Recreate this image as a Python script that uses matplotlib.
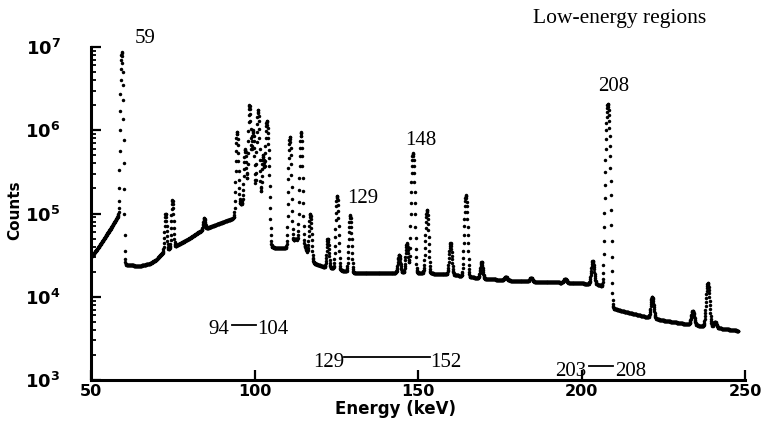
import matplotlib
matplotlib.use('Agg')
import matplotlib.pyplot as plt
import numpy as np

# continuum under the peaks (keV, counts)
bg_energy = [50, 52, 54, 56, 58, 58.7, 59.9, 61, 65, 68, 70, 72, 74, 76, 80, 83, 86,
             90, 93, 94.2, 95.3, 103.8, 104.7, 106, 109, 110, 112.5, 115.5, 116.5,
             118.5, 121, 126, 130, 145, 150, 160, 170, 180, 190, 200, 205, 207.6,
             208.6, 212, 220, 225, 232, 240, 248]
bg_counts = [3.0e4, 3.8e4, 5.0e4, 6.6e4, 9.0e4, 1.05e5, 2.6e4, 2.4e4, 2.35e4, 2.5e4,
             2.8e4, 3.4e4, 3.8e4, 4.1e4, 5.0e4, 6.0e4, 6.8e4, 7.8e4, 8.6e4, 9.2e4,
             1.3e5, 1.3e5, 4.0e4, 3.9e4, 3.8e4, 4.0e4, 5.0e4, 4.0e4, 3.0e4, 2.5e4,
             2.3e4, 2.1e4, 1.95e4, 1.95e4, 1.95e4, 1.85e4, 1.65e4, 1.55e4, 1.5e4,
             1.45e4, 1.4e4, 1.3e4, 7.5e3, 6.8e3, 5.7e3, 5.2e3, 4.7e3, 4.3e3, 3.9e3]

# peak centroids (keV) and counts at the top of each peak
peak_energy = [59.4, 72.8, 74.9, 84.6, 94.65, 97.1, 98.45, 99.55, 101.05, 102.6,
               103.7, 104.2, 110.8, 114.2, 117.0, 122.4, 125.2, 129.2, 144.2, 146.6,
               148.4, 152.7, 159.9, 164.6, 169.4, 176.8, 184.5, 195.0, 203.4, 208.0,
               221.6, 234.0, 238.6, 240.8]
peak_top = [8.7e6, 1.0e5, 1.45e5, 8.8e4, 9.6e5, 6.0e5, 2.0e6, 1.0e6, 1.75e6, 5.0e5,
            1.2e6, 4.5e5, 8.3e5, 9.5e5, 1.0e5, 5.0e4, 1.65e5, 9.5e4, 3.2e4, 4.4e4,
            5.3e5, 1.1e5, 4.4e4, 1.65e5, 2.6e4, 1.75e4, 1.7e4, 1.65e4, 2.7e4, 2.1e6,
            1.0e4, 6.8e3, 1.45e4, 5.0e3]

channel_kev = 0.075
xticks = [50, 100, 150, 200, 250]
yticks = [1e3, 1e4, 1e5, 1e6, 1e7]
ytick_labels = [r'$\mathbf{10^{3}}$', r'$\mathbf{10^{4}}$', r'$\mathbf{10^{5}}$',
                r'$\mathbf{10^{6}}$', r'$\mathbf{10^{7}}$']


def build_spectrum():
    energy = np.arange(50, 248, channel_kev)
    bg = 10 ** np.interp(energy, bg_energy, np.log10(bg_counts))
    counts = bg.copy()
    for e0, top in zip(peak_energy, peak_top):
        sigma = 0.2 + 0.001 * e0
        base = 10 ** np.interp(e0, bg_energy, np.log10(bg_counts))
        counts += (top - base) * np.exp(-0.5 * ((energy - e0) / sigma) ** 2)
    return energy, counts


def main():
    energy, counts = build_spectrum()

    fig = plt.figure(figsize=(7.65, 4.33), dpi=100)
    ax = fig.add_axes([0.119, 0.1224, 0.855, 0.769])
    ax.plot(energy, counts, 'o', ms=2.5, color='black', mec='none')

    ax.set_yscale('log')
    ax.set_xlim(50, 250)
    ax.set_ylim(1e3, 1e7)
    ax.spines['top'].set_visible(False)
    ax.spines['right'].set_visible(False)
    ax.spines['left'].set_linewidth(2.2)
    ax.spines['bottom'].set_linewidth(2.2)

    ax.set_xticks(xticks)
    ax.set_xticklabels([str(t) for t in xticks], fontsize=11.5, fontweight='bold')
    ax.set_yticks(yticks, labels=ytick_labels)
    ax.yaxis.set_minor_locator(matplotlib.ticker.LogLocator(base=10, subs=np.arange(2, 10)))
    ax.yaxis.set_minor_formatter(matplotlib.ticker.NullFormatter())
    ax.tick_params(axis='x', direction='in', length=7, width=1.6, pad=3)
    ax.tick_params(axis='y', which='major', direction='in', length=7, width=1.6,
                   pad=22, labelsize=13)
    ax.tick_params(axis='y', which='minor', direction='in', length=3.5, width=1.3)

    ax.set_xlabel('Energy (keV)', fontsize=12, fontweight='bold')
    ax.xaxis.set_label_coords(0.465, -0.06)
    ax.set_ylabel('Counts', fontsize=11, fontweight='bold')
    ax.yaxis.set_label_coords(-0.105, 0.51)

    serif = dict(family='Liberation Serif', fontsize=15, ha='left', va='baseline')
    ax.text(63.5, 10 ** 7.05, '59', **serif)
    ax.text(205.0, 10 ** 6.47, '208', **serif)
    ax.text(146.0, 10 ** 5.82, '148', **serif)
    ax.text(128.3, 10 ** 5.13, '129', **serif)

    # energy ranges
    ax.text(85.8, 10 ** 3.555, '94', **serif)
    ax.plot([93.1, 100.5], [10 ** 3.66] * 2, color='black', lw=1.3)
    ax.text(100.8, 10 ** 3.555, '104', **serif)
    ax.text(117.9, 10 ** 3.157, '129', **serif)
    ax.plot([127.4, 153.7], [10 ** 3.277] * 2, color='black', lw=1.3)
    ax.text(153.7, 10 ** 3.157, '152', **serif)
    ax.text(191.9, 10 ** 3.048, '203', **serif)
    ax.plot([202.3, 209.6], [10 ** 3.169] * 2, color='black', lw=1.3)
    ax.text(210.2, 10 ** 3.048, '208', **serif)

    fig.text(0.697, 0.947, 'Low-energy regions', family='Liberation Serif',
             fontsize=15.5, ha='left', va='baseline')

    fig.savefig('out.png', dpi=100)


if __name__ == '__main__':
    main()
